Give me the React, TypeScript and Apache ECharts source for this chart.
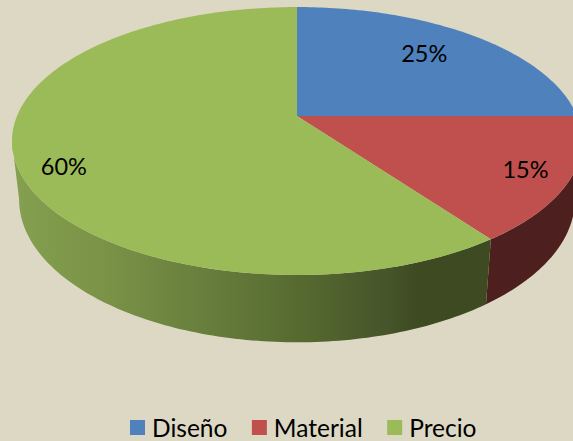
import React, { useEffect, useRef } from "react";
import * as echarts from "echarts";

const categories = ["Diseño", "Material", "Precio"];
const shares = [25, 15, 60];
const labels = ["25%", "15%", "60%"];
const topColors = ["#4F81BD", "#C0504D", "#9BBB59"];
const sideStops: [number, string][][] = [
  [[0, "#27405E"], [1, "#27405E"]],
  [[0, "#4A1D1C"], [1, "#4E1F1F"]],
  [[0, "#84A050"], [0.2, "#7A9246"], [0.35, "#6C8340"], [0.6, "#566A30"], [0.78, "#46552A"], [0.85, "#3E4A22"], [1, "#3E4A22"]],
];
const labelRadius = [0.72, 0.85, 0.84];
const labelNudge = [[-3, -3], [0, -1], [2, 15]];

const TOP = { cx: 297, cy: 116, r: 280, s: 129.3 };
const BOTTOM = { cx: 297, cy: 173, r: 273, s: 137.7 };
const K = 0.1866;
const FRONT_FROM = Math.PI - Math.acos(K);
const FRONT_TO = Math.PI + Math.acos(K);

function project(rim: typeof TOP, theta: number, f = 1): [number, number] {
  const x = f * Math.sin(theta);
  const y = -f * Math.cos(theta);
  const w = 1 - K * y;
  return [rim.cx + (rim.r * x) / w, rim.cy + (rim.s * y) / w];
}

function arc(rim: typeof TOP, from: number, to: number): [number, number][] {
  const n = Math.max(2, Math.ceil(((to - from) * 180) / Math.PI));
  const pts: [number, number][] = [];
  for (let i = 0; i <= n; i++) pts.push(project(rim, from + ((to - from) * i) / n));
  return pts;
}

const total = shares.reduce((a, b) => a + b, 0);

export default function App() {
  const ref = useRef<HTMLDivElement>(null);
  useEffect(() => {
    document.body.style.margin = "0";
    const chart = echarts.init(ref.current!, undefined, { renderer: "svg" });
    let acc = 0;
    const series = categories.map((name, i) => {
      const start = (acc / total) * Math.PI * 2;
      acc += shares[i];
      const end = (acc / total) * Math.PI * 2;
      return {
        type: "custom",
        name,
        coordinateSystem: "none",
        itemStyle: { color: topColors[i] },
        data: [shares[i]],
        silent: true,
        renderItem: () => {
          const children: any[] = [];
          const a = Math.max(start, FRONT_FROM);
          const b = Math.min(end, FRONT_TO);
          if (b > a) {
            const upper = arc(TOP, a, b);
            const lower = arc(BOTTOM, a, b).reverse();
            children.push({
              type: "polygon",
              shape: { points: [...upper, ...lower] },
              style: {
                fill: {
                  type: "linear",
                  x: 12,
                  y: 0,
                  x2: 492,
                  y2: 0,
                  global: true,
                  colorStops: sideStops[i].map(([offset, color]) => ({ offset, color })),
                },
              },
            });
          }
          children.push({
            type: "polygon",
            shape: { points: [[TOP.cx, TOP.cy], ...arc(TOP, start, end)] },
            style: { fill: topColors[i] },
          });
          const mid = (start + end) / 2;
          const [lx, ly] = project(TOP, mid, labelRadius[i]);
          children.push({
            type: "text",
            style: {
              text: labels[i],
              x: lx + labelNudge[i][0],
              y: ly + labelNudge[i][1],
              align: "center",
              verticalAlign: "middle",
              fontFamily: "Lato",
              fontSize: 23.5,
              fill: "#000",
            },
          });
          return { type: "group", children };
        },
      };
    });
    chart.setOption({
      animation: false,
      backgroundColor: "#DDD8C3",
      legend: {
        data: categories,
        left: 130,
        top: 415,
        padding: 0,
        icon: "rect",
        itemWidth: 15,
        itemHeight: 15,
        itemGap: 24.5,
        selectedMode: false,
        textStyle: { fontFamily: "Lato", fontSize: 24.5, color: "#000", padding: [0, 0, 0, 2] },
      },
      series,
    });
    return () => chart.dispose();
  }, []);
  return <div ref={ref} style={{ width: 573, height: 441, overflow: "hidden" }} />;
}
